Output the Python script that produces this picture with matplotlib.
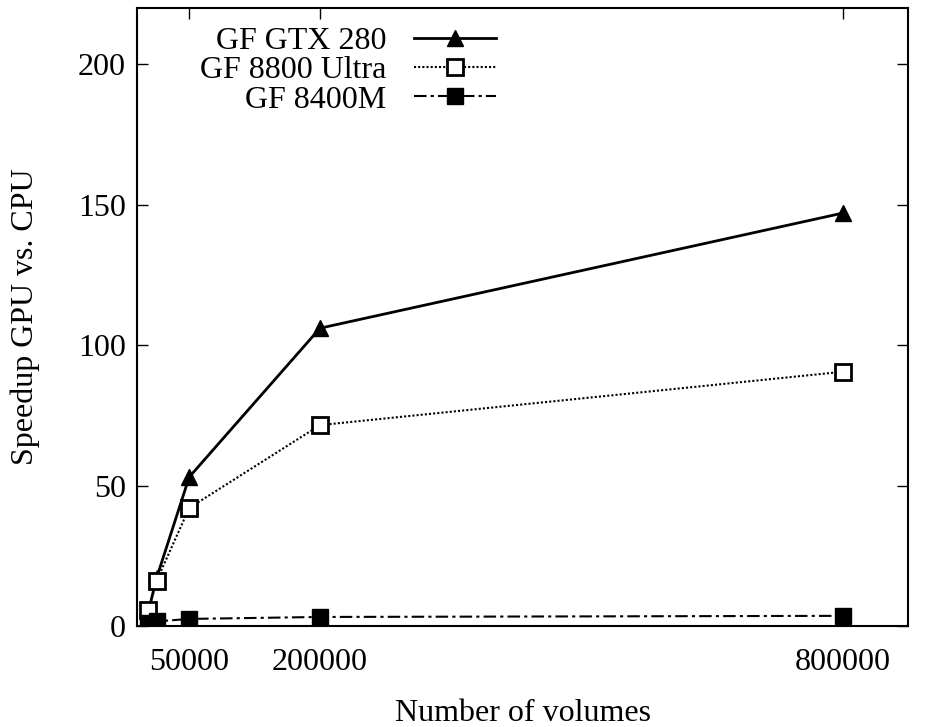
import matplotlib
matplotlib.use('Agg')
import matplotlib.pyplot as plt

volumes = [3125, 12500, 50000, 200000, 800000]
gtx280 = [5, 17, 53, 106, 147]
ultra8800 = [5.5, 16, 42, 71.5, 90.5]
m8400 = [1.2, 1.6, 2.5, 3.2, 3.6]

xticks = [50000, 200000, 800000]
yticks = [0, 50, 100, 150, 200]

plt.rcParams['font.family'] = ['Liberation Serif', 'DejaVu Serif']
plt.rcParams['font.size'] = 23

fig = plt.figure(figsize=(9.25, 7.27), dpi=100)
ax = fig.add_axes([0.148, 0.139, 0.834, 0.850])

ax.plot(volumes, gtx280, c='k', linewidth=2, marker='^', markersize=12,
        label='GF GTX 280')
ax.plot(volumes, ultra8800, c='k', linewidth=1.5, linestyle=(0, (1, 1)),
        marker='s', markersize=12, markerfacecolor='white', markeredgewidth=2,
        label='GF 8800 Ultra')
ax.plot(volumes, m8400, c='k', linewidth=1.5, linestyle=(0, (6, 2, 1.5, 2)),
        marker='s', markersize=12, label='GF 8400M')

ax.set_xlim(-10000, 875000)
ax.set_ylim(0, 220)
ax.set_xticks(xticks)
ax.set_yticks(yticks)
ax.tick_params(direction='in', top=True, right=True, length=8, width=1)
ax.tick_params(axis='x', pad=16)
ax.tick_params(axis='y', pad=8)
for s in ax.spines.values():
    s.set_linewidth(1.5)

ax.set_xlabel('Number of volumes', labelpad=16)
ax.set_ylabel('Speedup GPU vs. CPU', labelpad=27)

ax.legend(loc='upper right', bbox_to_anchor=(0.486, 0.996), frameon=False,
          markerfirst=False, handlelength=2.57, labelspacing=0.0,
          borderpad=0, handletextpad=0.85)

fig.savefig('out.png')
